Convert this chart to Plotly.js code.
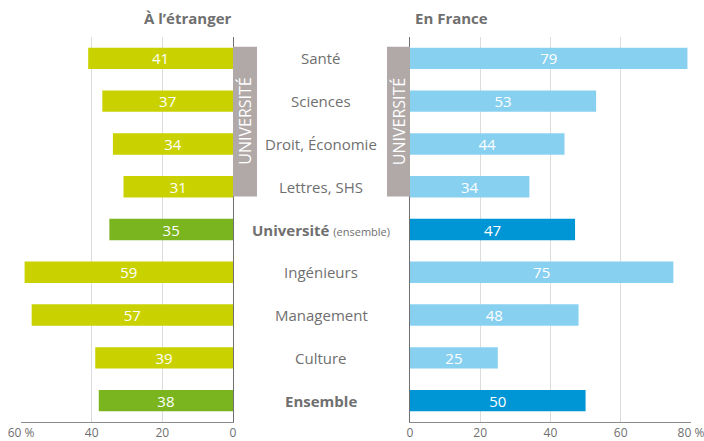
<!DOCTYPE html>
<html>
<head>
<meta charset="utf-8">
<script src="https://cdn.plot.ly/plotly-3.0.1.min.js"></script>
<style>html,body{margin:0;padding:0;background:#fff;}#chart{width:704px;height:441px;}</style>
</head>
<body>
<div id="chart"></div>
<script>
const categories = ["Santé", "Sciences", "Droit, Économie", "Lettres, SHS", "Université (ensemble)", "Ingénieurs", "Management", "Culture", "Ensemble"];
const abroadValues = [41, 37, 34, 31, 35, 59, 57, 39, 38];
const franceValues = [79, 53, 44, 34, 47, 75, 48, 25, 50];
const summaryRows = ["Université (ensemble)", "Ensemble"];
const leftTickVals = [60, 40, 20, 0];
const leftTickText = ["60 %", "40", "20", "0"];
const rightTickVals = [0, 20, 40, 60, 80];
const rightTickText = ["0", "20", "40", "60", "80 %"];
const leftTitle = "À l’étranger";
const rightTitle = "En France";
const boxLabel = "UNIVERSITÉ";

const W = 704;
const grey = "#6f6f6f";
const leftLight = "#c9d200", leftDark = "#7ab520";
const rightLight = "#88d0f0", rightDark = "#0096d6";

const isSummary = c => summaryRows.includes(c);

const traces = [
  {
    type: "bar", orientation: "h", y: categories, x: abroadValues,
    xaxis: "x", yaxis: "y",
    marker: {color: categories.map(c => isSummary(c) ? leftDark : leftLight)},
    text: abroadValues.map(String), textposition: "inside", insidetextanchor: "middle", textangle: 0,
    constraintext: "none",
    textfont: {color: "#fff", size: 15, family: "Open Sans"},
    hoverinfo: "none", width: 0.5, cliponaxis: false
  },
  {
    type: "bar", orientation: "h", y: categories, x: franceValues,
    xaxis: "x2", yaxis: "y2",
    marker: {color: categories.map(c => isSummary(c) ? rightDark : rightLight)},
    text: franceValues.map(String), textposition: "inside", insidetextanchor: "middle", textangle: 0,
    constraintext: "none",
    textfont: {color: "#fff", size: 15, family: "Open Sans"},
    hoverinfo: "none", width: 0.5, cliponaxis: false
  }
];

const labelAnn = categories.map(c => {
  let t = c;
  if (c === "Université (ensemble)") t = "<b>Université</b> <span style='font-size:11px'>(ensemble)</span>";
  else if (c === "Ensemble") t = "<b>Ensemble</b>";
  return {
    text: t, xref: "paper", yref: "y", x: 321 / W, y: c, showarrow: false,
    xanchor: "center", yanchor: "middle",
    font: {size: 15, color: grey, family: "Open Sans"}
  };
});

const annotations = labelAnn.concat([
  {text: "<b>" + leftTitle + "</b>", xref: "paper", yref: "paper", x: 188 / W, y: 1, yshift: 19,
   showarrow: false, xanchor: "center", yanchor: "middle", font: {size: 15, color: grey, family: "Open Sans"}},
  {text: "<b>" + rightTitle + "</b>", xref: "paper", yref: "paper", x: 451 / W, y: 1, yshift: 19,
   showarrow: false, xanchor: "center", yanchor: "middle", font: {size: 15, color: grey, family: "Open Sans"}},
  {text: boxLabel, xref: "paper", yref: "y", x: 245 / W, y: 1.48, textangle: -90, showarrow: false,
   xanchor: "center", yanchor: "middle", font: {size: 16, color: "#fff", family: "Open Sans"}},
  {text: boxLabel, xref: "paper", yref: "y", x: 398.5 / W, y: 1.48, textangle: -90, showarrow: false,
   xanchor: "center", yanchor: "middle", font: {size: 16, color: "#fff", family: "Open Sans"}}
]);

const shapes = [
  {type: "rect", xref: "paper", yref: "y", x0: 233 / W, x1: 257 / W, y0: -0.27, y1: 3.23,
   fillcolor: "#b1a9a7", line: {width: 0}},
  {type: "rect", xref: "paper", yref: "y", x0: 387 / W, x1: 410 / W, y0: -0.27, y1: 3.23,
   fillcolor: "#b1a9a7", line: {width: 0}}
];

const axisCommon = {
  showgrid: true, gridcolor: "#dcdcdc", gridwidth: 1, zeroline: false,
  showline: true, linecolor: "#8a8a8a", linewidth: 1, ticks: "",
  ticklabeloverflow: "allow",
  tickfont: {size: 12, color: grey, family: "Open Sans"}, fixedrange: true
};

const layout = {
  width: 704, height: 441,
  margin: {l: 0, r: 0, t: 37, b: 19},
  paper_bgcolor: "#fff", plot_bgcolor: "#fff",
  showlegend: false, bargap: 0.5,
  xaxis: Object.assign({}, axisCommon, {domain: [21 / W, 233 / W], range: [60.02, 0],
    tickvals: leftTickVals, ticktext: leftTickText, anchor: "y"}),
  xaxis2: Object.assign({}, axisCommon, {domain: [410 / W, 691 / W], range: [0, 80.02],
    tickvals: rightTickVals, ticktext: rightTickText, anchor: "y2"}),
  yaxis: {type: "category", autorange: "reversed", showticklabels: false, showgrid: false,
    zeroline: false, showline: true, linecolor: "#6f6f6f", side: "right", anchor: "x", ticks: ""},
  yaxis2: {type: "category", autorange: "reversed", showticklabels: false, showgrid: false,
    zeroline: false, showline: true, linecolor: "#6f6f6f", side: "left", anchor: "x2", ticks: ""},
  shapes: shapes,
  annotations: annotations,
  font: {family: "Open Sans", color: grey}
};

Plotly.newPlot("chart", traces, layout, {displayModeBar: false, staticPlot: true});
</script>
</body>
</html>
